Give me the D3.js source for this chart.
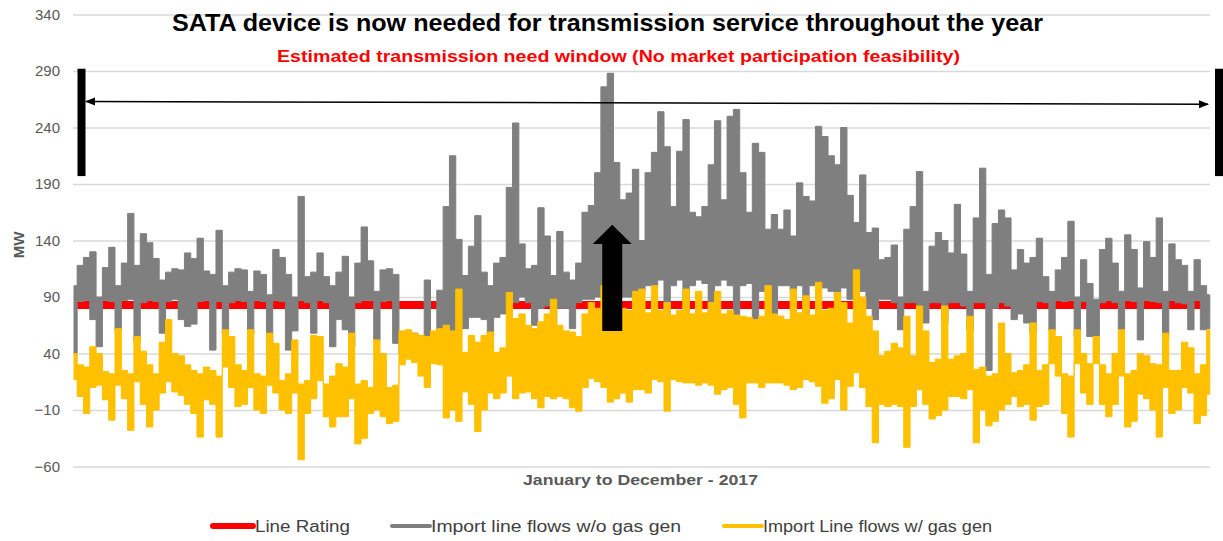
<!DOCTYPE html>
<html><head><meta charset="utf-8">
<script src="https://cdn.jsdelivr.net/npm/d3@7"></script>
<style>
body{margin:0;background:#fff;}
svg{display:block;font-family:"Liberation Sans",Arial,sans-serif;}
</style>
</head><body>
<svg id="c" width="1223" height="541"></svg>
<script>
// ---- data (two-day bins across 2017: max and min of each hourly series) ----
const yTicks = [-60, -10, 40, 90, 140, 190, 240, 290, 340];
const lineRating = 83;
const grayHi = [
100,118,125,130,90,116,134,100,120,164,
118,146,138,124,105,112,115,114,129,124,
142,113,110,149,100,112,115,114,95,113,
110,92,132,125,110,90,179,108,112,129,
108,100,112,126,90,120,152,122,95,114,
115,110,58,58,58,56,105,55,96,170,
215,141,109,135,162,112,100,120,125,187,
244,137,115,118,169,144,109,148,112,105,
120,165,171,200,276,288,209,176,182,203,
140,200,218,254,223,170,219,247,165,161,
170,207,246,176,250,256,200,165,226,218,
150,163,150,167,144,191,179,175,241,232,
215,207,240,180,156,198,147,151,123,125,
136,90,150,170,201,95,135,147,140,129,
172,128,95,160,204,110,155,167,160,114,
132,120,125,142,108,95,114,125,157,90,
123,102,88,132,142,120,95,145,132,98,
139,125,160,95,137,123,118,95,123,100,
92];
const grayLo = [
40,86,87,70,46,87,86,60,87,88,
50,85,87,86,58,86,88,70,64,66,
86,87,43,86,58,85,87,86,58,87,
86,46,87,86,43,60,87,85,58,87,
85,46,70,61,46,85,87,87,52,86,
87,49,40,40,40,36,30,35,35,40,
55,71,62,72,72,70,56,72,75,80,
85,90,85,65,80,82,65,80,80,62,
85,88,88,90,90,95,92,90,90,92,
95,100,100,105,70,100,105,72,100,105,
102,70,100,105,100,68,100,102,58,95,
100,68,100,100,95,100,70,100,100,98,
95,90,98,88,90,95,80,70,88,88,
85,61,85,85,80,67,85,85,67,85,
85,82,61,85,85,25,80,85,82,70,
75,67,58,86,85,60,87,86,87,55,
86,55,55,85,87,85,61,87,86,52,
87,86,85,55,87,85,84,61,87,61,
62];
const yellowHi = [
40,30,28,46,40,24,22,62,25,22,
55,42,30,22,50,70,40,38,30,25,
22,28,25,20,61,55,30,25,61,22,
20,58,49,16,22,52,13,16,56,55,
13,20,31,28,58,13,16,10,52,40,
10,12,60,61,58,56,55,60,62,65,
60,97,41,56,50,56,59,41,45,94,
71,75,65,62,68,75,88,65,60,59,
55,75,85,80,100,70,72,80,78,95,
97,76,100,78,85,74,78,97,75,95,
76,85,95,75,78,74,73,72,70,73,
100,75,73,70,97,76,91,74,103,78,
80,94,85,67,114,90,73,60,38,42,
49,45,73,38,82,60,32,35,82,35,
38,40,73,26,28,20,22,67,40,23,
25,30,67,25,30,61,55,22,20,61,
40,31,55,30,22,40,61,22,25,40,
38,31,30,58,25,25,50,45,22,30,
61];
const yellowLo = [
17,2,-13,10,12,-1,-19,12,0,-28,
15,-5,-25,-10,5,15,6,3,-5,-13,
-34,-1,-5,-34,28,10,-7,-5,10,-10,
-13,12,5,-10,-13,5,-54,-13,0,16,
-16,-25,-16,-16,0,-40,-35,-13,-10,-16,
-22,-20,30,35,32,20,10,31,30,-17,
-10,-20,6,-5,-29,-10,5,0,5,20,
0,5,6,0,-8,2,0,2,0,-8,
-11,10,18,15,10,-3,0,5,-3,8,
8,5,17,15,-11,17,15,14,14,12,
14,12,4,8,10,-5,-17,14,14,10,
14,14,14,12,8,10,17,15,11,-4,
0,17,-10,11,23,10,-7,-39,-5,-7,
-5,-7,-43,-7,8,-5,-18,-15,-10,2,
2,0,8,-39,-10,-24,-20,-10,-5,2,
-7,-5,-19,-7,-5,31,20,-13,-34,31,
5,-5,31,-5,-16,-5,20,-25,-20,4,
0,-10,-34,10,-13,-10,10,5,-22,-15,
4];
const seriesNames = ["Line Rating", "Import line flows w/o gas gen", "Import Line flows w/ gas gen"];
const seriesColors = ["#FF0000", "#7F7F7F", "#FFC000"];
const titleText = "SATA device is now needed for transmission service throughout the year";
const subtitleText = "Estimated transmission need window (No market participation feasibility)";
const xLabel = "January to December - 2017";
const yLabel = "MW";
// annotation levels (MW)
const windowTop = 292, windowBottom = 197, windowArrowL = 263, windowArrowR = 260.5;
const upArrowBase = 60, upArrowHead = 137, upArrowTip = 154, upArrowBin = 85.3;

// ---- drawing ----
const svg = d3.select("#c");
const N = grayHi.length;
const x = d3.scaleLinear().domain([0, N - 1]).range([74, 1209.8]);
const y = d3.scaleLinear().domain([-60, 340]).range([466.5, 14.5]);

const gAxis = svg.append("g").attr("transform", "translate(73,0)")
  .call(d3.axisLeft(y).tickValues(yTicks).tickSize(-(1210 - 73)).tickPadding(13).tickFormat(d3.format("d")));
gAxis.select(".domain").remove();
gAxis.selectAll(".tick line").attr("stroke", "#D9D9D9").attr("stroke-width", 1.3);
gAxis.selectAll(".tick text").attr("fill", "#595959").attr("font-size", 15)
  .attr("font-family", "'Liberation Sans',Arial,sans-serif");

// Line rating
const idx = d3.range(N);
svg.append("path").datum(idx)
  .attr("d", d3.line().x(i => x(i)).y(() => y(lineRating)))
  .attr("fill", "none").attr("stroke", seriesColors[0]).attr("stroke-width", 8);

function band(hi, lo, color) {
  const data = idx.map(i => ({i, hi: hi[i], lo: lo[i]}));
  svg.append("path").datum(data)
    .attr("d", d3.area().curve(d3.curveStep).x(d => x(d.i)).y0(d => y(d.lo)).y1(d => y(d.hi)))
    .attr("fill", color).attr("stroke", color).attr("stroke-width", 1).attr("stroke-linejoin", "miter");
}
band(grayHi, grayLo, seriesColors[1]);
band(yellowHi, yellowLo, seriesColors[2]);

// Titles
svg.append("text").attr("x", 172).attr("y", 31).attr("font-size", 24).attr("font-weight", "bold")
  .attr("fill", "#000").attr("textLength", 871).attr("lengthAdjust", "spacingAndGlyphs").text(titleText);
svg.append("text").attr("x", 277).attr("y", 62).attr("font-size", 17).attr("font-weight", "bold")
  .attr("fill", "#FF0000").attr("textLength", 683).attr("lengthAdjust", "spacingAndGlyphs").text(subtitleText);

// Axis titles
svg.append("text").attr("x", 523).attr("y", 485).attr("font-size", 15).attr("font-weight", "bold")
  .attr("fill", "#595959").attr("textLength", 235).attr("lengthAdjust", "spacingAndGlyphs").text(xLabel);
svg.append("text").attr("transform", "translate(24,245) rotate(-90)").attr("text-anchor", "middle")
  .attr("font-size", 15).attr("font-weight", "bold").attr("fill", "#595959").text(yLabel);

// Window annotation: bars + double arrow
const ann = svg.append("g");
ann.append("rect").attr("x", 77.5).attr("y", y(windowTop)).attr("width", 8).attr("height", y(windowBottom) - y(windowTop)).attr("fill", "#000");
ann.append("rect").attr("x", 1215).attr("y", y(windowTop)).attr("width", 8).attr("height", y(windowBottom) - y(windowTop)).attr("fill", "#000");
const defs = svg.append("defs");
defs.append("marker").attr("id", "ah").attr("viewBox", "0 0 10 10").attr("refX", 9).attr("refY", 5)
  .attr("markerWidth", 7).attr("markerHeight", 7).attr("orient", "auto-start-reverse")
  .append("path").attr("d", "M0,1 L10,5 L0,9 Z").attr("fill", "#000");
ann.append("line").attr("x1", 86).attr("y1", y(windowArrowL)).attr("x2", 1208).attr("y2", y(windowArrowR))
  .attr("stroke", "#000").attr("stroke-width", 1.5)
  .attr("marker-start", "url(#ah)").attr("marker-end", "url(#ah)");

// Up arrow
const ax = x(upArrowBin);
const up = d3.path();
up.moveTo(ax - 10, y(upArrowBase));
up.lineTo(ax - 10, y(upArrowHead));
up.lineTo(ax - 19.5, y(upArrowHead));
up.lineTo(ax, y(upArrowTip));
up.lineTo(ax + 19.5, y(upArrowHead));
up.lineTo(ax + 10, y(upArrowHead));
up.lineTo(ax + 10, y(upArrowBase));
up.closePath();
ann.append("path").attr("d", up.toString()).attr("fill", "#000");

// Legend
const leg = [
  {sx: 213, ex: 253, w: 6, tx: 255, tl: 95},
  {sx: 392, ex: 430, w: 4, tx: 431, tl: 250},
  {sx: 724, ex: 762, w: 4, tx: 763, tl: 229}
];
leg.forEach((l, k) => {
  svg.append("line").attr("x1", l.sx).attr("x2", l.ex).attr("y1", 526).attr("y2", 526)
    .attr("stroke", seriesColors[k]).attr("stroke-width", l.w).attr("stroke-linecap", "round");
  svg.append("text").attr("x", l.tx).attr("y", 532).attr("font-size", 16).attr("fill", "#404040")
    .attr("textLength", l.tl).attr("lengthAdjust", "spacingAndGlyphs").text(seriesNames[k]);
});
</script>
</body></html>
